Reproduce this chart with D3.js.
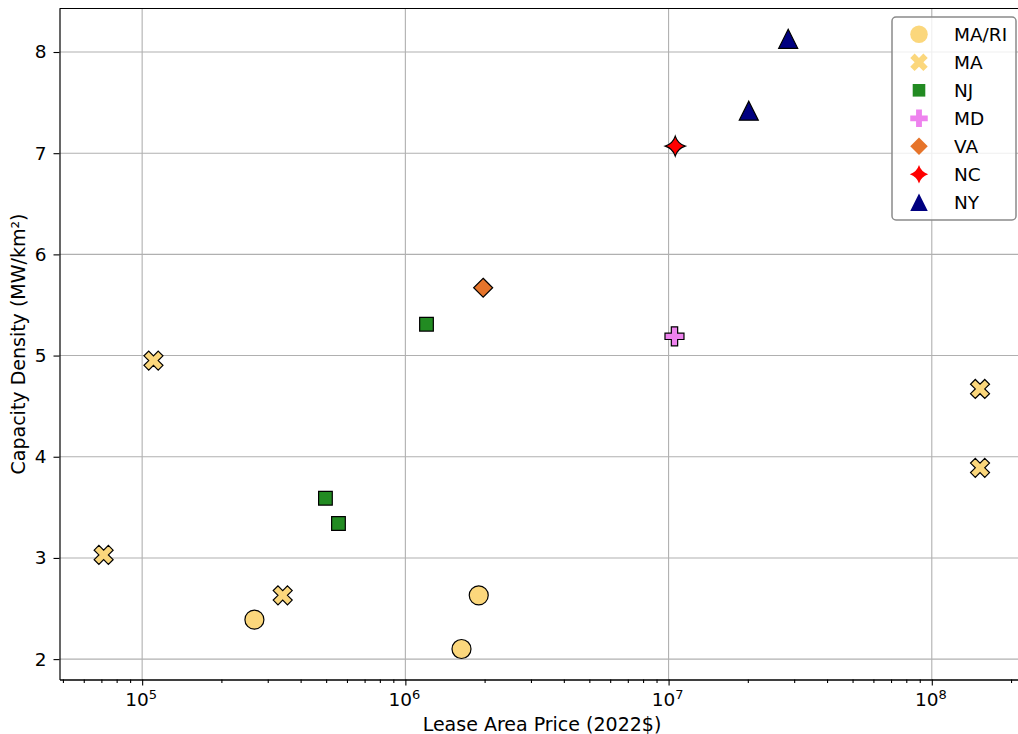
<!DOCTYPE html>
<html>
<head>
<meta charset="utf-8">
<script src="https://cdn.jsdelivr.net/npm/d3@7"></script>
<style>
  body { margin: 0; background: #fff; }
  text { font-family: "DejaVu Sans", sans-serif; fill: #000; }
</style>
</head>
<body>
<svg id="chart" width="1018" height="734"></svg>
<script>
// Lease area price (2022$) vs. capacity density (MW/km²), by state
const groups = ["MA/RI", "MA", "NJ", "MD", "VA", "NC", "NY"];

const maRiPrice   = [2.67e5, 1.634e6, 1.90e6];
const maRiDensity = [2.39, 2.10, 2.63];

const maPrice   = [7.14e4, 1.104e5, 3.42e5, 1.525e8, 1.525e8];
const maDensity = [3.03, 4.95, 2.63, 4.67, 3.89];

const njPrice   = [1.203e6, 4.97e5, 5.57e5];
const njDensity = [5.31, 3.59, 3.34];

const mdPrice   = [1.053e7];
const mdDensity = [5.19];

const vaPrice   = [1.975e6];
const vaDensity = [5.67];

const ncPrice   = [1.06e7];
const ncDensity = [7.07];

const nyPrice   = [2.017e7, 2.847e7];
const nyDensity = [7.42, 8.13];

const xMajorTicks = [1e5, 1e6, 1e7, 1e8];
const xTickExponents = ["5", "6", "7", "8"];
const yTicks = [2, 3, 4, 5, 6, 7, 8];

const groupStyle = {
  "MA/RI": { shape: "circle",   color: "#fbd77c" },
  "MA":    { shape: "xfilled",  color: "#fbd77c" },
  "NJ":    { shape: "square",   color: "#228b22" },
  "MD":    { shape: "plus",     color: "#ee82ee" },
  "VA":    { shape: "diamond",  color: "#e6742a" },
  "NC":    { shape: "star4",    color: "#ff0000" },
  "NY":    { shape: "triangle", color: "#000080" }
};

const seriesData = [
  ["MA/RI", maRiPrice, maRiDensity],
  ["MA", maPrice, maDensity],
  ["NJ", njPrice, njDensity],
  ["MD", mdPrice, mdDensity],
  ["VA", vaPrice, vaDensity],
  ["NC", ncPrice, ncDensity],
  ["NY", nyPrice, nyDensity]
];
const points = [];
seriesData.forEach(([g, xs, ys]) => xs.forEach((v, i) => points.push({ group: g, price: v, density: ys[i] })));

// Marker paths, centred at 0,0, sized by overall extent s
function markerPath(shape, s) {
  const h = s / 2;
  switch (shape) {
    case "circle":
      return `M${h},0A${h},${h} 0 1,1 ${-h},0A${h},${h} 0 1,1 ${h},0Z`;
    case "square": {
      const q = s * 0.36;
      return `M${-q},${-q}H${q}V${q}H${-q}Z`;
    }
    case "diamond":
      return `M0,${-h}L${h},0L0,${h}L${-h},0Z`;
    case "triangle":
      return `M0,${-h}L${h},${h}L${-h},${h}Z`;
    case "plus": {
      const a = s / 6;
      const pts = [[-a,-h],[a,-h],[a,-a],[h,-a],[h,a],[a,a],[a,h],[-a,h],[-a,a],[-h,a],[-h,-a],[-a,-a]];
      return "M" + pts.map(p => p.join(",")).join("L") + "Z";
    }
    case "xfilled": {
      const L = h * 1.06, a = s / 6 * 1.06;
      const base = [[-a,-L],[a,-L],[a,-a],[L,-a],[L,a],[a,a],[a,L],[-a,L],[-a,a],[-L,a],[-L,-a],[-a,-a]];
      const c = Math.SQRT1_2;
      const pts = base.map(([px, py]) => [(px - py) * c, (px + py) * c]);
      return "M" + pts.map(p => p.map(v => v.toFixed(2)).join(",")).join("L") + "Z";
    }
    case "star4": {
      const R = h * 1.05, c = R * 0.24;
      return `M0,${-R}Q${c},${-c} ${R},0Q${c},${c} 0,${R}Q${-c},${c} ${-R},0Q${-c},${-c} 0,${-R}Z`;
    }
  }
}

const svg = d3.select("#chart");
const plotLeft = 59.5, plotTop = 8.5, plotBottom = 679.5, plotRight = 1025.5;

const x = d3.scaleLog().domain([Math.pow(10, 4.686), Math.pow(10, 8.356)]).range([plotLeft, plotRight]);
const y = d3.scaleLinear().domain([1.7985, 8.43]).range([plotBottom, plotTop]);

// grid
const grid = svg.append("g").attr("stroke", "#b0b0b0").attr("stroke-width", 1.1);
grid.selectAll("line.gx").data(xMajorTicks).join("line").attr("class", "gx")
  .attr("x1", d => x(d)).attr("x2", d => x(d)).attr("y1", plotTop).attr("y2", plotBottom);
grid.selectAll("line.gy").data(yTicks).join("line").attr("class", "gy")
  .attr("x1", plotLeft).attr("x2", plotRight).attr("y1", d => y(d)).attr("y2", d => y(d));

// points
svg.append("g").selectAll("path").data(points).join("path")
  .attr("transform", d => `translate(${x(d.price)},${y(d.density)})`)
  .attr("d", d => markerPath(groupStyle[d.group].shape, 19))
  .attr("fill", d => groupStyle[d.group].color)
  .attr("stroke", "#000").attr("stroke-width", 1.2).attr("stroke-linejoin", "miter");

// x axis: major ticks, minor ticks
const minorTicks = [];
for (let e = 4; e <= 8; e++) for (let m = 2; m <= 9; m++) {
  const v = m * Math.pow(10, e);
  if (v > x.domain()[0] && v < x.domain()[1]) minorTicks.push(v);
}
const xAxisMajor = svg.append("g").attr("transform", `translate(0,${plotBottom})`)
  .call(d3.axisBottom(x).tickValues(xMajorTicks).tickFormat("").tickSize(6).tickSizeOuter(0));
const xAxisMinor = svg.append("g").attr("transform", `translate(0,${plotBottom})`)
  .call(d3.axisBottom(x).tickValues(minorTicks).tickFormat("").tickSize(3.5).tickSizeOuter(0));
[xAxisMajor, xAxisMinor].forEach(g => {
  g.select(".domain").attr("stroke", "#000").attr("stroke-width", 1.2);
  g.selectAll(".tick line").attr("stroke", "#000").attr("stroke-width", 1.1);
});

const xLabels = svg.append("g");
xMajorTicks.forEach((v, i) => {
  const t = xLabels.append("text").attr("x", x(v) - 1).attr("y", 706)
    .attr("text-anchor", "middle").attr("font-size", 18.5);
  t.append("tspan").text("10");
  t.append("tspan").attr("dy", -7.5).attr("font-size", 13).text(xTickExponents[i]);
});

// y axis
const yAxis = svg.append("g").attr("transform", `translate(${plotLeft},0)`)
  .call(d3.axisLeft(y).tickValues(yTicks).tickFormat(d3.format("d")).tickSize(6).tickPadding(7).tickSizeOuter(0));
yAxis.select(".domain").attr("stroke", "#000").attr("stroke-width", 1.2);
yAxis.selectAll(".tick line").attr("stroke", "#000").attr("stroke-width", 1.1);
yAxis.selectAll(".tick text").attr("font-size", 18.5).attr("font-family", "DejaVu Sans").attr("fill", "#000");

// top spine
svg.append("line").attr("x1", plotLeft).attr("x2", plotRight).attr("y1", plotTop).attr("y2", plotTop)
  .attr("stroke", "#000").attr("stroke-width", 1.2);

// axis titles
svg.append("text").attr("x", 542).attr("y", 730.5).attr("text-anchor", "middle")
  .attr("font-size", 19).text("Lease Area Price (2022$)");
svg.append("text").attr("transform", "translate(25,344) rotate(-90)").attr("text-anchor", "middle")
  .attr("font-size", 19).text("Capacity Density (MW/km²)");

// legend
const legend = svg.append("g");
legend.append("rect").attr("x", 892).attr("y", 17).attr("width", 124).attr("height", 203)
  .attr("rx", 4).attr("fill", "#fff").attr("fill-opacity", 0.8)
  .attr("stroke", "#8a8a8a").attr("stroke-width", 1.5);
const legendRow = d3.scaleLinear().domain([0, groups.length - 1]).range([34.3, 202.3]);
groups.forEach((g, i) => {
  const cy = legendRow(i);
  legend.append("path").attr("transform", `translate(919,${cy})`)
    .attr("d", markerPath(groupStyle[g].shape, 17.5))
    .attr("fill", groupStyle[g].color);
  legend.append("text").attr("x", 954).attr("y", cy + 6.6).attr("font-size", 18.5).text(g);
});
</script>
</body>
</html>
